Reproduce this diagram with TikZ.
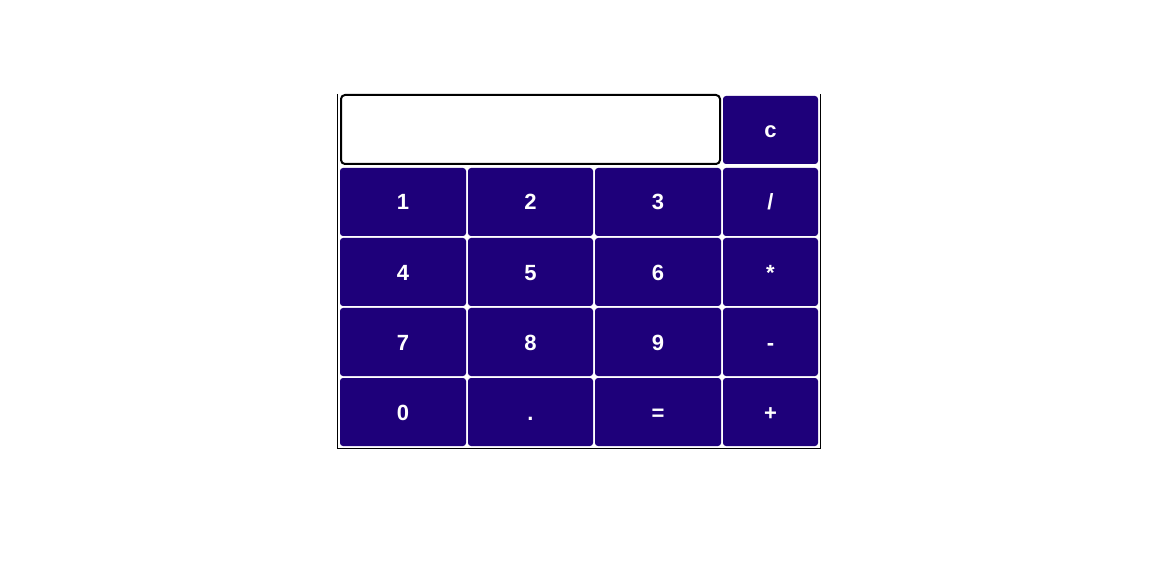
\documentclass[tikz,border=0pt]{standalone}
\usepackage{fontspec}
\setmainfont{Liberation Sans}
\usetikzlibrary{positioning}
\definecolor{keyblue}{RGB}{30,0,122}

\begin{document}
\begin{tikzpicture}[x=1pt, y=-1pt, node distance={2pt},
  key/.style = {fill=keyblue, text=white, rounded corners=3pt, outer sep=0pt, inner sep=0pt,
    minimum width=126pt, minimum height=68pt, text height=16pt, text depth=0pt,
    font=\fontsize{22}{26}\selectfont\bfseries},
  opkey/.style = {key, minimum width=95pt},
  screen/.style = {draw=black, line width=2pt, fill=white, rounded corners=4pt, outer sep=0pt,
    minimum width=379pt, minimum height=69pt}]
\useasboundingbox (0,0) rectangle (1160,588);
% frame of the calculator
\draw[line width=1pt] (337.5,94) -- (337.5,448.5) -- (820.5,448.5) -- (820.5,94);
% display
\node[screen, anchor=north west] (disp) at (341,95) {};
% first row of keys
\node[key, anchor=north west] (k1) at (340,168) {1};
\node[key, minimum width=125pt] (k2) [right=of k1] {2};
\node[key] (k3) [right=of k2] {3};
\node[opkey] (kdiv) [right=of k3] {/};
\node[opkey] (kc) [above=4pt of kdiv] {c};
% second row
\node[key] (k4) [below=of k1] {4};
\node[key, minimum width=125pt] (k5) [below=of k2] {5};
\node[key] (k6) [below=of k3] {6};
\node[opkey] (kmul) [below=of kdiv] {*};
% third row
\node[key] (k7) [below=of k4] {7};
\node[key, minimum width=125pt] (k8) [below=of k5] {8};
\node[key] (k9) [below=of k6] {9};
\node[opkey] (ksub) [below=of kmul] {-};
% fourth row
\node[key] (k0) [below=of k7] {0};
\node[key, minimum width=125pt] (kdot) [below=of k8] {.};
\node[key] (keq) [below=of k9] {=};
\node[opkey] (kadd) [below=of ksub] {+};
\end{tikzpicture}
\end{document}
